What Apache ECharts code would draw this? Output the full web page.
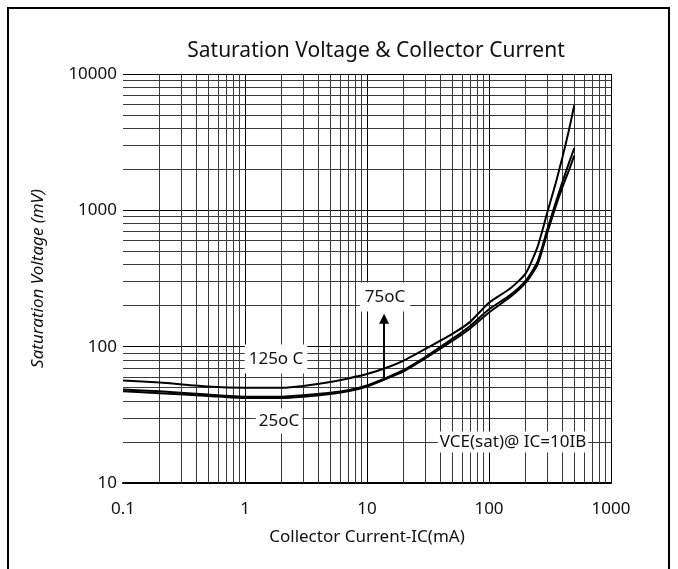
<!DOCTYPE html>
<html>
<head>
<meta charset="utf-8">
<script src="https://cdn.jsdelivr.net/npm/echarts@6/dist/echarts.min.js"></script>
<style>
  html, body { margin: 0; padding: 0; background: #ffffff; }
  #chart { width: 678px; height: 569px; }
</style>
</head>
<body>
<div id="chart"></div>
<script>
// Collector current (mA) sample points shared by the three curves
const currents = [0.1, 0.2, 0.5, 1, 2, 3, 5, 7, 10, 15, 20, 30, 50, 70, 100, 150, 200, 250, 300, 350, 400, 450, 500];

// VCE(sat) in mV at each current, one array per junction temperature
const vsat125 = [56.5, 54.5, 51, 50, 50, 51.5, 55, 58.5, 63, 71, 79, 96, 124, 152, 210, 268, 345, 540, 960, 1550, 2450, 3800, 5900];
const vsat75  = [48.5, 47, 44.5, 43, 43, 44, 46, 48, 52, 60, 67.5, 84, 114, 142, 188, 240, 305, 420, 720, 1120, 1620, 2200, 2860];
const vsat25  = [47, 45.5, 43.5, 42, 42, 43, 45, 47, 51, 59, 66, 82, 110, 136, 178, 232, 295, 400, 680, 1050, 1480, 1950, 2520];

// Axis ranges
const xRange = [0.1, 1000];
const yRange = [10, 10000];

// Minor grid lines inside each decade
const xMinorGrid = [0.2, 0.3, 0.4, 0.5, 0.6, 0.7, 0.8, 0.9,
                    2, 3, 4, 5, 6, 7, 8, 9,
                    20, 30, 40, 50, 60, 70, 80, 90,
                    200, 300, 400, 500, 600, 700, 800, 900];
const yMinorGrid = [20, 30, 40, 50, 60, 70, 80, 90,
                    200, 300, 400, 500, 600, 700, 800, 900,
                    2000, 3000, 4000, 5000, 6000, 7000, 8000, 9000];

// Arrow pointing from the lower curves up to the 75oC label (current, voltage)
const arrowStart = [13.8, 59];
const arrowEnd = [13.8, 160];

// Curve annotations
const annotations = [
  { text: '125o C', x: 276, y: 359, pad: [6, 4] },
  { text: '25oC', x: 279, y: 421, pad: [4, 3] },
  { text: '75oC', x: 385, y: 297, pad: [6, 5] },
  { text: 'VCE(sat)@ IC=10IB', x: 513, y: 442, pad: [2, 2] }
];

const FONT = '"Noto Sans", "Open Sans", sans-serif';
const INK = '#111111';

const pairs = (vals) => currents.map((c, i) => [c, vals[i]]);
const plainNumber = (v) => String(v);

const gridLines = [];
xMinorGrid.forEach(v => gridLines.push({ xAxis: v }));
yMinorGrid.forEach(v => gridLines.push({ yAxis: v }));

const curveSeries = (name, vals) => ({
  name: name,
  type: 'line',
  data: pairs(vals),
  showSymbol: false,
  symbol: 'none',
  smooth: 0.2,
  z: 5,
  lineStyle: { color: '#000000', width: 2 },
  emphasis: { disabled: true },
  silent: true
});

const chart = echarts.init(document.getElementById('chart'), null, { renderer: 'canvas' });

chart.setOption({
  animation: false,
  backgroundColor: '#ffffff',
  title: {
    text: 'Saturation Voltage & Collector Current',
    left: 371,
    top: 36,
    textAlign: 'center',
    textStyle: { fontFamily: FONT, fontSize: 21, fontWeight: 'normal', color: INK }
  },
  grid: { left: 123, right: 67, top: 74, bottom: 86, containLabel: false },
  xAxis: {
    type: 'log',
    logBase: 10,
    min: xRange[0],
    max: xRange[1],
    name: 'Collector Current-IC(mA)',
    nameLocation: 'middle',
    nameGap: 46,
    nameTextStyle: { fontFamily: FONT, fontSize: 17, color: INK },
    axisLine: { show: true, lineStyle: { color: '#000000', width: 2 } },
    axisTick: { show: false },
    axisLabel: { margin: 18, fontFamily: FONT, fontSize: 17, color: INK, formatter: plainNumber },
    splitLine: { show: true, showMinLine: false, lineStyle: { color: '#000000', width: 1 } },
    minorTick: { show: false },
    minorSplitLine: { show: false }
  },
  yAxis: {
    type: 'log',
    logBase: 10,
    min: yRange[0],
    max: yRange[1],
    name: 'Saturation Voltage (mV)',
    nameLocation: 'middle',
    nameRotate: 90,
    nameGap: 76,
    nameTextStyle: { fontFamily: FONT, fontSize: 17, fontStyle: 'italic', color: INK },
    axisLine: { show: false },
    axisTick: { show: false },
    axisLabel: { margin: 6, fontFamily: FONT, fontSize: 17, color: INK, formatter: plainNumber },
    splitLine: { show: true, showMinLine: false, lineStyle: { color: '#000000', width: 1 } },
    minorTick: { show: false },
    minorSplitLine: { show: false }
  },
  series: [
    {
      name: 'grid',
      type: 'line',
      data: [],
      z: 1,
      silent: true,
      markLine: {
        silent: true,
        symbol: ['none', 'none'],
        label: { show: false },
        lineStyle: { color: '#3a3a3a', width: 1, type: 'solid' },
        emphasis: { disabled: true },
        data: gridLines
      }
    },
    curveSeries('125oC', vsat125),
    curveSeries('75oC', vsat75),
    curveSeries('25oC', vsat25),
    {
      name: 'arrow',
      type: 'line',
      data: [],
      z: 6,
      silent: true,
      markLine: {
        silent: true,
        symbol: ['none', 'triangle'],
        symbolSize: 10,
        label: { show: false },
        lineStyle: { color: '#000000', width: 2, type: 'solid' },
        emphasis: { disabled: true },
        data: [[{ coord: arrowStart }, { coord: arrowEnd }]]
      }
    }
  ],
  graphic: [
    {
      type: 'rect',
      z: 0,
      silent: true,
      shape: { x: 8, y: 8, width: 661, height: 620 },
      style: { fill: 'none', stroke: '#000000', lineWidth: 2 }
    }
  ].concat(annotations.map(a => ({
    type: 'text',
    z: 50,
    silent: true,
    x: a.x,
    y: a.y,
    style: {
      text: a.text,
      font: '17px ' + FONT,
      fill: INK,
      align: 'center',
      verticalAlign: 'middle',
      backgroundColor: '#ffffff',
      padding: a.pad
    }
  })))
});
</script>
</body>
</html>
